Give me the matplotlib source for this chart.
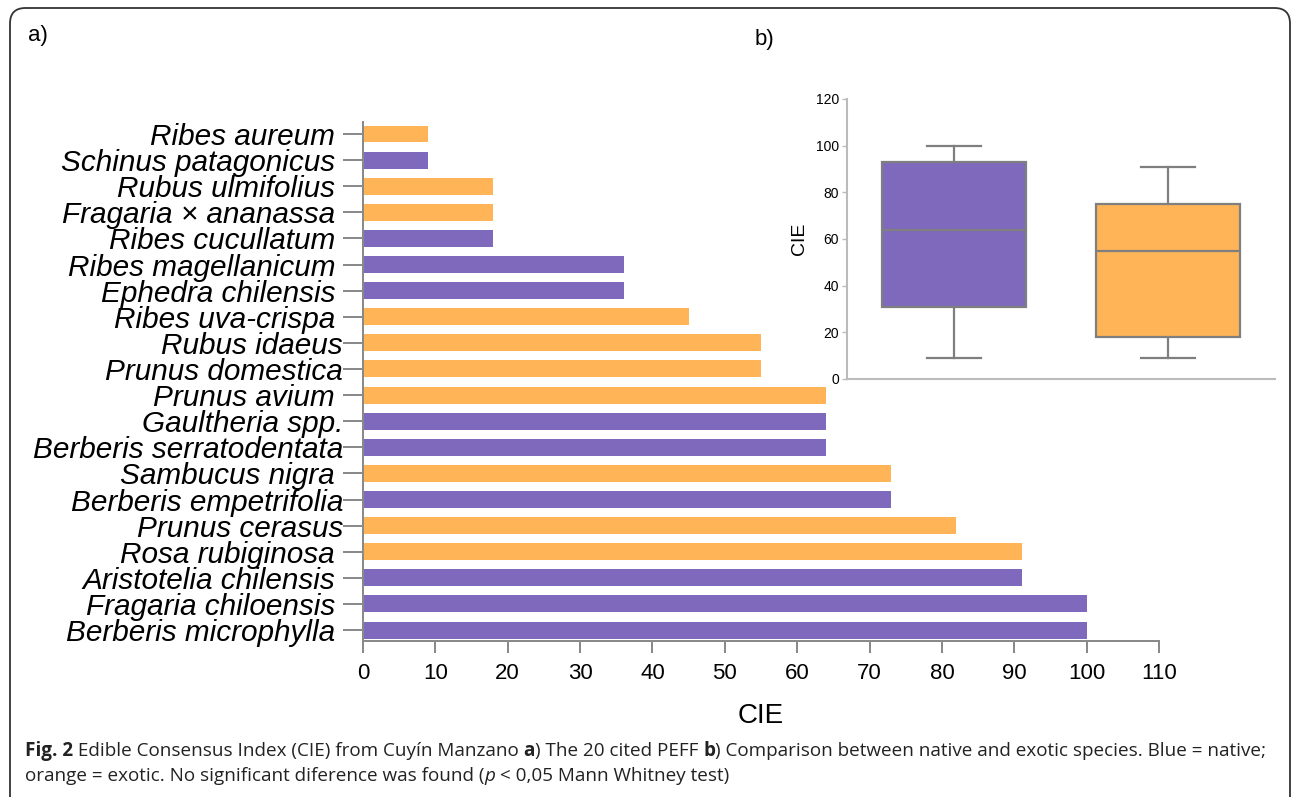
import matplotlib
matplotlib.use("Agg")
import matplotlib.pyplot as plt
from matplotlib.patches import FancyBboxPatch
from matplotlib.transforms import ScaledTranslation

# ---------------- data ----------------
species = ["Ribes aureum", "Schinus patagonicus", "Rubus ulmifolius", "Fragaria × ananassa",
           "Ribes cucullatum", "Ribes magellanicum", "Ephedra chilensis", "Ribes uva-crispa",
           "Rubus idaeus", "Prunus domestica", "Prunus avium", "Gaultheria spp.",
           "Berberis serratodentata", "Sambucus nigra", "Berberis empetrifolia", "Prunus cerasus",
           "Rosa rubiginosa", "Aristotelia chilensis", "Fragaria chiloensis", "Berberis microphylla"]
cie = [9, 9, 18, 18, 18, 36, 36, 45, 55, 55, 64, 64, 64, 73, 73, 82, 91, 91, 100, 100]
origin = ["exotic", "native", "exotic", "exotic", "native", "native", "native", "exotic",
          "exotic", "exotic", "exotic", "native", "native", "exotic", "native", "exotic",
          "exotic", "native", "native", "native"]
x_ticks = [0, 10, 20, 30, 40, 50, 60, 70, 80, 90, 100, 110]

box_groups = ["native", "exotic"]
box_whislo = [9, 9]
box_q1 = [31, 18]
box_med = [64, 55]
box_q3 = [93, 75]
box_whishi = [100, 91]
inset_ticks = [0, 20, 40, 60, 80, 100, 120]

colors = {"native": "#7F69BC", "exotic": "#FFB457"}
# labels whose text sits flush against the tick (no trailing space in the original)
flush_labels = ["Rubus idaeus", "Prunus domestica", "Gaultheria spp.",
                "Berberis serratodentata", "Berberis empetrifolia", "Prunus cerasus"]

PX = 72 / 100  # points per pixel at dpi 100

fig = plt.figure(figsize=(12.92, 7.97), dpi=100)
W, H = 1292, 797

# rounded frame
frame = FancyBboxPatch((10 / W, -0.02), (1280 / W), (797 - 8) / H + 0.02,
                       boxstyle="round,pad=0,rounding_size=0.012",
                       transform=fig.transFigure, fill=False, edgecolor="#333333",
                       linewidth=1.3, mutation_aspect=W / H)
fig.patches.append(frame)

# ---------------- main bar chart ----------------
ax = fig.add_axes([363 / W, 156 / H, (1159 - 363) / W, (641 - 122) / H])
ypos = list(range(len(species)))
ax.barh(ypos, cie, height=0.65, color=[colors[o] for o in origin])
ax.set_ylim(19.42, -0.46)
ax.set_xlim(0, 110)
ax.set_yticks(ypos)
ax.set_yticklabels(species, fontsize=21.4, style="italic", family="Liberation Sans")
ax.set_xticks(x_ticks)
ax.set_xticklabels([str(t) for t in x_ticks], fontsize=16, family="Liberation Sans")
for s in ["top", "right"]:
    ax.spines[s].set_visible(False)
for s in ["left", "bottom"]:
    ax.spines[s].set_color("#8a8a8a")
    ax.spines[s].set_linewidth(2 * PX)
ax.tick_params(axis="y", length=20 * PX, width=2 * PX, color="#8a8a8a", pad=0)
ax.tick_params(axis="x", length=12 * PX, width=2 * PX, color="#8a8a8a", pad=10 * PX)
shift = ScaledTranslation(-8 / 100, 0, fig.dpi_scale_trans)
for lab in ax.get_yticklabels():
    if lab.get_text() not in flush_labels:
        lab.set_transform(lab.get_transform() + shift)
ax.set_xlabel("CIE", fontsize=20, family="Liberation Sans", labelpad=14)

# ---------------- inset box plot ----------------
ax2 = fig.add_axes([847 / W, (797 - 379) / H, (1275 - 847) / W, 280 / H])
stats = []
for i, g in enumerate(box_groups):
    stats.append(dict(label=g, whislo=box_whislo[i], q1=box_q1[i], med=box_med[i],
                      q3=box_q3[i], whishi=box_whishi[i], fliers=[]))
gray = "#7f7f7f"
bp = ax2.bxp(stats, positions=[1, 2], widths=0.67, capwidths=0.25, patch_artist=True,
             showfliers=False,
             boxprops=dict(edgecolor=gray, linewidth=1.6),
             medianprops=dict(color=gray, linewidth=1.6),
             whiskerprops=dict(color=gray, linewidth=1.6),
             capprops=dict(color=gray, linewidth=1.6))
for patch, g in zip(bp["boxes"], box_groups):
    patch.set_facecolor(colors[g])
ax2.set_xlim(0.5, 2.5)
ax2.set_ylim(0, 120)
ax2.set_yticks(inset_ticks)
ax2.set_yticklabels([str(t) for t in inset_ticks], fontsize=10, family="Liberation Sans")
ax2.set_xticks([])
for s in ["top", "right"]:
    ax2.spines[s].set_visible(False)
for s in ["left", "bottom"]:
    ax2.spines[s].set_color("#bbbbbb")
    ax2.spines[s].set_linewidth(1.5)
ax2.tick_params(axis="y", length=5 * PX, width=1, color="#bbbbbb", pad=2)
ax2.set_ylabel("CIE", fontsize=14, family="Liberation Sans", labelpad=6)

# panel labels
fig.text(28 / W, 1 - 36 / H, "a)", fontsize=16, family="Liberation Sans", va="center")
fig.text(755 / W, 1 - 40 / H, "b)", fontsize=16, family="Liberation Sans", va="center")

# ---------------- caption ----------------
cap_font = "Open Sans"
runs1 = [("Fig. 2", "bold", "normal"),
         (" Edible Consensus Index (CIE) from Cuyín Manzano ", "normal", "normal"),
         ("a", "bold", "normal"), (") The 20 cited PEFF ", "normal", "normal"),
         ("b", "bold", "normal"),
         (") Comparison between native and exotic species. Blue = native;", "normal", "normal")]
runs2 = [("orange = exotic. No significant diference was found (", "normal", "normal"),
         ("p", "normal", "italic"), (" < 0,05 Mann Whitney test)", "normal", "normal")]

fig.canvas.draw()
renderer = fig.canvas.get_renderer()

def draw_runs(runs, x0, y0, size):
    x = x0
    for txt, wt, st in runs:
        t = fig.text(x / W, 1 - y0 / H, txt, fontsize=size, family=cap_font,
                     weight=wt, style=st, va="baseline", ha="left", color="#222222")
        bb = t.get_window_extent(renderer)
        x += bb.width

draw_runs(runs1, 25, 756, 13.55)
draw_runs(runs2, 25, 781, 13.55)

fig.savefig("out.png", dpi=100)
